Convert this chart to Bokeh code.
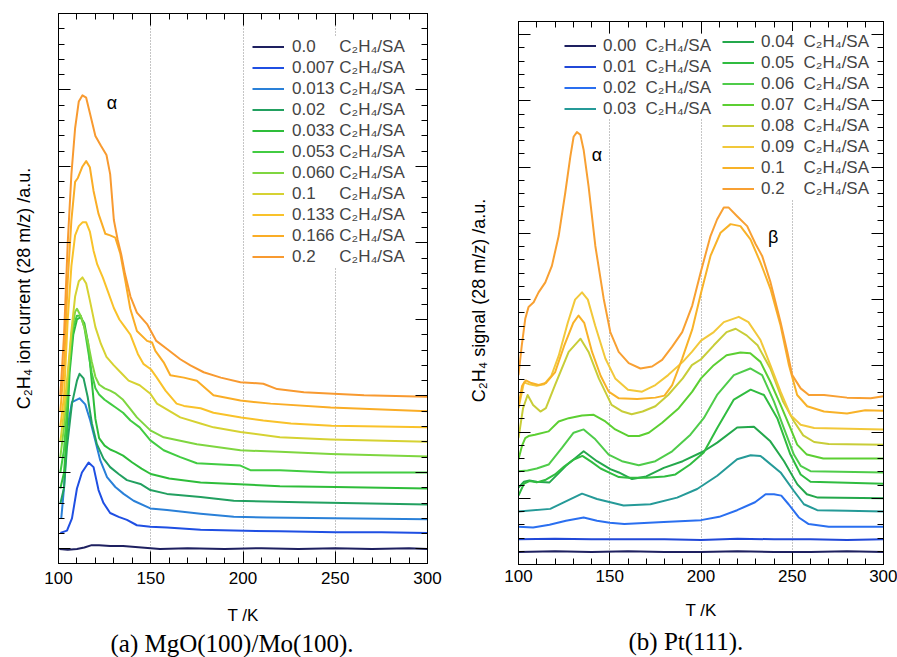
from bokeh.plotting import figure
from bokeh.models import (Range1d, FixedTicker, LinearAxis, Legend, LegendItem, Title,
                          CustomLabelingPolicy)
from bokeh.layouts import row
from bokeh.core.properties import value
from bokeh.embed import file_html
from bokeh.resources import INLINE

FONT = "Liberation Sans"
SERIF = "Liberation Serif"

# ---------------- (a) MgO(100)/Mo(100) ----------------
mgo_doses = ["0.0", "0.007", "0.013", "0.02", "0.033", "0.053", "0.060", "0.1", "0.133", "0.166", "0.2"]
mgo_colors = ["#1e2060", "#1f4fe3", "#2a80d8", "#22a060", "#2ebd3a", "#42cc42",
              "#7fd640", "#d6d232", "#f9c22a", "#faad26", "#f89a30"]

mgo_T_0 = [100.5, 105, 110, 114, 118, 122, 128, 135, 145, 155, 170, 190, 210, 230, 250, 270, 290, 300]
mgo_V_0 = [0.0, -0.01, 0.0, 0.02, 0.05, 0.05, 0.04, 0.04, 0.02, 0.0, 0.01, 0.0, 0.01, 0.0, 0.01, 0.0, 0.01, 0.0]

mgo_T_1 = [101, 104.6, 107.3, 110, 112.7, 116.3, 119, 121.7, 124.4, 128, 132.6, 137.1, 142.5, 149.8, 158.8, 177, 195, 220, 250, 275, 300]
mgo_V_1 = [0.21, 0.24, 0.40, 0.79, 1.0, 1.13, 1.07, 0.77, 0.60, 0.47, 0.42, 0.38, 0.31, 0.29, 0.28, 0.25, 0.24, 0.23, 0.22, 0.22, 0.21]

mgo_T_2 = [101.5, 103, 104.6, 107.3, 111.4, 114.5, 117.2, 119.9, 122.6, 126.3, 130.8, 135.3, 140.7, 149.8, 158.8, 177, 195, 213, 249, 300]
mgo_V_2 = [0.40, 0.8, 1.55, 1.92, 1.97, 1.89, 1.68, 1.42, 1.16, 0.94, 0.81, 0.72, 0.63, 0.53, 0.51, 0.46, 0.42, 0.41, 0.40, 0.39]

mgo_T_3 = [101, 103, 104.6, 107.3, 110, 111.4, 113.6, 115.8, 118.1, 120.8, 124.4, 128, 132.6, 137.1, 144.4, 149.8, 158.8, 177, 195, 231, 300]
mgo_V_3 = [0.59, 0.8, 1.33, 1.9, 2.2, 2.29, 2.23, 1.99, 1.64, 1.37, 1.18, 1.07, 0.98, 0.90, 0.85, 0.77, 0.72, 0.68, 0.63, 0.61, 0.58]

mgo_T_4 = [101, 103, 104.5, 106, 108, 110, 112, 114, 116, 118, 120, 122, 125, 128, 131, 135, 140, 145, 150, 160, 177, 195, 220, 250, 300]
mgo_V_4 = [0.79, 1.0, 1.5, 2.3, 2.8, 3.0, 3.03, 2.95, 2.7, 2.2, 1.7, 1.45, 1.35, 1.3, 1.27, 1.22, 1.13, 1.05, 0.98, 0.92, 0.87, 0.85, 0.82, 0.81, 0.79]

mgo_T_5 = [101, 103, 104.5, 106, 108, 110, 112, 114, 116, 118, 120, 122, 125, 128, 131, 135, 139, 144, 149.8, 157, 166, 175, 198.6, 204, 220, 247.5, 300]
mgo_V_5 = [1.0, 1.3, 1.8, 2.4, 2.9, 3.05, 3.05, 2.9, 2.6, 2.3, 2.1, 2.02, 1.95, 1.9, 1.85, 1.78, 1.68, 1.59, 1.42, 1.29, 1.2, 1.12, 1.09, 1.03, 1.03, 1.0, 1.0]

mgo_T_6 = [101, 103, 105, 107, 109, 110, 112, 114, 116, 118, 120, 122, 125, 128, 131, 135, 138.9, 142.5, 149.8, 157, 175, 198.6, 220, 247.5, 300]
mgo_V_6 = [1.2, 1.6, 2.2, 2.8, 3.1, 3.14, 3.05, 2.9, 2.7, 2.45, 2.25, 2.15, 2.1, 2.07, 2.03, 1.95, 1.83, 1.72, 1.55, 1.46, 1.37, 1.29, 1.27, 1.24, 1.21]

mgo_T_7 = [101, 103, 105, 107, 109, 111, 113, 115, 117, 120, 123, 126, 130, 134, 138, 144, 149.8, 153.4, 166, 177, 184, 198.6, 220, 247.5, 300]
mgo_V_7 = [1.4, 1.8, 2.3, 2.85, 3.3, 3.5, 3.55, 3.47, 3.25, 2.9, 2.68, 2.51, 2.4, 2.3, 2.2, 2.14, 2.03, 1.9, 1.72, 1.64, 1.59, 1.53, 1.46, 1.43, 1.40]

mgo_T_8 = [101, 103, 105, 107, 109, 111, 113, 115, 117, 119, 121, 124, 127, 130, 133, 136, 139, 143, 146, 150, 153, 158, 164, 168, 177, 184, 199, 211, 226, 248, 300]
mgo_V_8 = [1.6, 2.0, 3.0, 3.7, 4.1, 4.22, 4.27, 4.27, 4.15, 3.9, 3.72, 3.55, 3.35, 3.15, 3.0, 2.9, 2.8, 2.55, 2.42, 2.35, 2.25, 2.07, 1.9, 1.87, 1.84, 1.78, 1.72, 1.68, 1.64, 1.61, 1.59]

mgo_T_9 = [101, 103, 105, 107, 109, 110.5, 113, 115, 117, 119, 121.7, 125.4, 128, 130.8, 133.5, 136.2, 138.9, 142.5, 148, 150.7, 152.5, 157, 160.6, 168, 175, 184, 198.6, 215, 247.5, 300]
mgo_V_9 = [1.8, 2.4, 3.5, 4.3, 4.8, 4.85, 5.0, 5.07, 4.99, 4.68, 4.38, 4.12, 4.1, 4.07, 3.86, 3.51, 3.14, 2.85, 2.72, 2.70, 2.59, 2.44, 2.27, 2.24, 2.20, 2.01, 1.94, 1.90, 1.85, 1.80]

mgo_T_10 = [101, 103, 105, 107, 109, 111, 113, 115, 117, 120, 123, 126, 128, 130, 132, 134, 136, 139, 142.5, 148, 153, 159, 166, 171.5, 178.7, 188, 198.6, 211, 218.5, 233, 249, 265.6, 300]
mgo_V_10 = [2.0, 2.8, 4.0, 4.9, 5.5, 5.85, 5.93, 5.9, 5.7, 5.4, 5.27, 5.15, 4.9, 4.3, 4.05, 3.85, 3.6, 3.3, 3.09, 2.94, 2.72, 2.61, 2.48, 2.40, 2.31, 2.24, 2.18, 2.16, 2.09, 2.05, 2.03, 2.01, 1.99]

mgo_T = [mgo_T_0, mgo_T_1, mgo_T_2, mgo_T_3, mgo_T_4, mgo_T_5, mgo_T_6, mgo_T_7, mgo_T_8, mgo_T_9, mgo_T_10]
mgo_V = [mgo_V_0, mgo_V_1, mgo_V_2, mgo_V_3, mgo_V_4, mgo_V_5, mgo_V_6, mgo_V_7, mgo_V_8, mgo_V_9, mgo_V_10]

# ---------------- (b) Pt(111) ----------------
pt_doses = ["0.00", "0.01", "0.02", "0.03", "0.04", "0.05", "0.06", "0.07", "0.08", "0.09", "0.1", "0.2"]
pt_colors = ["#1e2060", "#2148d8", "#2a6ff0", "#259a98", "#24a84c", "#30bc40",
             "#4fcc4a", "#5ccf32", "#c8cd38", "#f2c83a", "#f8b228", "#f8a032"]

pt_T_0 = [100, 120, 140, 160, 180, 200, 220, 240, 260, 280, 300]
pt_V_0 = [0.19, 0.2, 0.19, 0.2, 0.19, 0.19, 0.2, 0.19, 0.19, 0.2, 0.19]

pt_T_1 = [100, 120, 140, 160, 180, 200, 220, 240, 260, 280, 300]
pt_V_1 = [0.38, 0.39, 0.38, 0.38, 0.38, 0.37, 0.39, 0.38, 0.38, 0.37, 0.38]

pt_T_2 = [100, 108, 117, 126, 135.7, 143, 150, 158, 179.6, 200, 210, 219.8, 229.6, 235.4, 240, 244, 248, 253.6, 259, 270, 300]
pt_V_2 = [0.57, 0.56, 0.6, 0.66, 0.71, 0.66, 0.63, 0.61, 0.64, 0.67, 0.72, 0.82, 0.94, 1.06, 1.06, 1.04, 0.91, 0.71, 0.61, 0.57, 0.57]

pt_T_3 = [100, 117.4, 126.5, 134.8, 143, 150.3, 157.6, 172.3, 186.9, 197.9, 208.9, 219.8, 227.2, 232.6, 243.6, 250.9, 256.4, 263.7, 280, 300]
pt_V_3 = [0.80, 0.84, 0.96, 1.07, 0.99, 0.94, 0.89, 0.91, 1.01, 1.14, 1.34, 1.59, 1.65, 1.64, 1.39, 1.11, 0.91, 0.82, 0.81, 0.80]

pt_T_4 = [100, 103, 106, 110, 117, 126, 135.7, 143, 150.3, 155, 162.2, 170, 179.6, 190, 201.5, 208.9, 219.8, 229, 238, 245.5, 252.8, 258, 264, 300]
pt_V_4 = [1.16, 1.25, 1.27, 1.25, 1.24, 1.49, 1.71, 1.56, 1.44, 1.39, 1.29, 1.33, 1.46, 1.56, 1.71, 1.84, 2.07, 2.08, 1.86, 1.56, 1.21, 1.06, 1.01, 1.0]

pt_T_5 = [100, 103, 106, 110, 115, 120, 125, 130, 135, 140, 145, 150.3, 155, 160, 170, 180, 186, 194, 201.5, 208.9, 218, 227.2, 234.5, 241.8, 249, 254.6, 260, 300]
pt_V_5 = [1.04, 1.22, 1.26, 1.24, 1.28, 1.36, 1.48, 1.58, 1.64, 1.55, 1.45, 1.38, 1.32, 1.31, 1.31, 1.33, 1.36, 1.51, 1.69, 2.06, 2.49, 2.64, 2.56, 2.21, 1.66, 1.36, 1.25, 1.22]

pt_T_6 = [100, 105, 110, 116.5, 123.8, 130.2, 135.7, 142.1, 149.4, 156.7, 165.9, 175, 184.2, 194.2, 201.5, 208.8, 218, 227, 233.5, 240, 245.4, 250.9, 254.6, 260, 300]
pt_V_6 = [1.41, 1.42, 1.45, 1.51, 1.76, 1.99, 2.04, 1.89, 1.66, 1.56, 1.5, 1.56, 1.71, 1.96, 2.21, 2.56, 2.86, 2.96, 2.86, 2.46, 2.06, 1.66, 1.49, 1.41, 1.39]

pt_T_7 = [100, 102, 103.7, 105.5, 109, 116.5, 122, 127.5, 134.8, 141.2, 147.6, 153, 160.4, 166, 171.4, 178.7, 187.8, 195.2, 200, 207, 214, 221.6, 227, 232.6, 238, 243.6, 249, 252.7, 258, 267, 300]
pt_V_7 = [1.59, 1.8, 1.91, 1.94, 1.96, 2.01, 2.16, 2.21, 2.25, 2.26, 2.16, 2.04, 1.94, 1.94, 1.99, 2.14, 2.36, 2.61, 2.81, 3.01, 3.16, 3.2, 3.19, 3.06, 2.76, 2.41, 2.06, 1.81, 1.66, 1.6, 1.6]

pt_T_8 = [100, 102.5, 105, 108, 112, 115, 120, 127.5, 134, 138.4, 144, 151, 157, 162, 168, 175, 182, 190, 195, 200, 207, 214, 219, 225, 231, 238, 245, 251, 256, 262, 270, 300]
pt_V_8 = [1.91, 2.36, 2.56, 2.41, 2.31, 2.36, 2.71, 3.21, 3.41, 3.21, 2.81, 2.41, 2.31, 2.27, 2.31, 2.39, 2.56, 2.81, 3.01, 3.1, 3.31, 3.51, 3.56, 3.46, 3.31, 2.96, 2.46, 2.16, 1.95, 1.85, 1.82, 1.81]

pt_T_9 = [100, 103, 106, 110, 114, 118, 122, 127, 131, 134.8, 138, 142, 147.6, 153, 160, 167.7, 175, 182, 190, 195, 200, 207, 212.5, 220.7, 226, 232.6, 238, 243.6, 249, 254.6, 262, 300]
pt_V_9 = [2.36, 2.75, 2.72, 2.7, 2.72, 2.85, 3.15, 3.65, 4.0, 4.11, 4.0, 3.61, 3.11, 2.81, 2.64, 2.61, 2.71, 2.86, 3.06, 3.21, 3.38, 3.51, 3.66, 3.74, 3.66, 3.39, 3.01, 2.61, 2.26, 2.11, 2.06, 2.04]

pt_T_10 = [100, 102, 104, 107, 111, 115, 120, 125, 130, 132.9, 136, 140.3, 145, 149.4, 155, 165, 175, 180, 184.2, 189.7, 195.2, 200, 205.2, 210.7, 216.2, 221.6, 227.1, 232.6, 238.1, 243.6, 248.2, 252.7, 258.2, 267.4, 280, 290, 300]
pt_V_10 = [2.4, 2.7, 2.78, 2.74, 2.71, 2.74, 2.9, 3.3, 3.65, 3.76, 3.65, 3.21, 2.85, 2.61, 2.51, 2.5, 2.52, 2.55, 2.71, 3.11, 3.55, 4.1, 4.66, 5.01, 5.14, 5.11, 4.91, 4.56, 4.16, 3.61, 3.01, 2.56, 2.39, 2.31, 2.28, 2.33, 2.32]

pt_T_11 = [100, 101.8, 103.7, 105.5, 108.3, 111, 114.7, 118.3, 122, 125.6, 128.4, 130.2, 132, 133.9, 135.7, 138.4, 142.1, 146.7, 150.3, 154.9, 160.4, 166.8, 173.2, 178.7, 184.2, 189.7, 195.2, 199.7, 205.2, 208.8, 212.5, 215.2, 219.8, 225.3, 229.9, 233.5, 238.1, 243.6, 247.3, 250, 254.6, 259.1, 267.4, 280, 293, 300]
pt_V_11 = [2.86, 3.31, 3.71, 3.89, 3.96, 4.11, 4.26, 4.51, 4.96, 5.61, 6.16, 6.46, 6.53, 6.49, 6.26, 5.71, 4.81, 4.01, 3.51, 3.21, 3.04, 2.96, 2.99, 3.09, 3.29, 3.51, 3.91, 4.4, 4.96, 5.21, 5.39, 5.39, 5.26, 5.11, 4.84, 4.66, 4.26, 3.66, 3.21, 2.86, 2.66, 2.56, 2.56, 2.52, 2.51, 2.54]

pt_T = [pt_T_0, pt_T_1, pt_T_2, pt_T_3, pt_T_4, pt_T_5, pt_T_6, pt_T_7, pt_T_8, pt_T_9, pt_T_10, pt_T_11]
pt_V = [pt_V_0, pt_V_1, pt_V_2, pt_V_3, pt_V_4, pt_V_5, pt_V_6, pt_V_7, pt_V_8, pt_V_9, pt_V_10, pt_V_11]

x_major = [100, 150, 200, 250, 300]
x_minor = list(range(100, 301, 10))
mgo_y_major = [0, 1, 2, 3, 4, 5, 6, 7]
mgo_y_minor = [round(i * 0.2, 1) for i in range(0, 36)]
pt_y_major = [0, 1, 2, 3, 4, 5, 6, 7, 8]
pt_y_minor = [round(i * 0.2, 1) for i in range(0, 42)]

UNIT = "\u00a0C\u2082H\u2084/SA"
FS = "\u2007"
NB = "\u00a0"

NO_LABELS = "for (const i of indices) { indices.unset(i) }\nreturn indices"


def make_fig(width, yrange, bl, br, bt, bb, yticks, ylabel, ylab_standoff,
             tick_standoff, xlab_standoff, caption, cap_off, cap_standoff):
    p = figure(width=width, height=657, output_backend="svg", toolbar_location=None,
               title=None,
               x_range=Range1d(100, 300), y_range=Range1d(*yrange),
               min_border_left=bl, min_border_right=br, min_border_top=bt, min_border_bottom=bb,
               background_fill_color="white", border_fill_color="white")
    p.frame_align = False
    p.outline_line_color = "black"
    p.outline_line_width = 1
    xt = FixedTicker(ticks=x_major, minor_ticks=x_minor)
    yt = FixedTicker(ticks=yticks[0], minor_ticks=yticks[1])
    p.xaxis.ticker = xt
    p.yaxis.ticker = yt
    top = LinearAxis(ticker=xt)
    right = LinearAxis(ticker=yt)
    p.add_layout(top, "above")
    p.add_layout(right, "right")
    for ax in p.axis:
        ax.major_tick_in = 12
        ax.major_tick_out = 0
        ax.minor_tick_in = 6
        ax.minor_tick_out = 0
        ax.axis_line_color = "black"
        ax.major_tick_line_color = "black"
        ax.minor_tick_line_color = "black"
        ax.major_label_text_font = FONT
        ax.major_label_text_font_size = "17px"
        ax.major_label_text_color = "black"
        ax.major_label_standoff = tick_standoff
    for ax in [top, right, p.yaxis[0]]:
        ax.major_label_text_font_size = "1px"
        ax.major_label_standoff = 0
        ax.major_label_policy = CustomLabelingPolicy(code=NO_LABELS)
    bx = p.below[0]
    bx.axis_label = "T /K"
    bx.axis_label_text_font = FONT
    bx.axis_label_text_font_size = "17px"
    bx.axis_label_text_font_style = "normal"
    bx.axis_label_text_color = "black"
    bx.axis_label_standoff = xlab_standoff
    ly = p.left[0]
    ly.axis_label = ylabel
    ly.axis_label_text_font = FONT
    ly.axis_label_text_font_size = "18px"
    ly.axis_label_text_font_style = "normal"
    ly.axis_label_text_color = "black"
    ly.axis_label_standoff = ylab_standoff
    p.xgrid.ticker = xt
    p.xgrid.grid_line_color = "#8a8a8a"
    p.xgrid.grid_line_dash = "1 2"
    p.xgrid.grid_line_width = 1
    p.ygrid.visible = False
    cap = Title(text=caption, align="left", text_font=SERIF, text_font_size="25px",
                text_font_style="normal", text_color="black", offset=cap_off, standoff=cap_standoff)
    p.add_layout(cap, "below")
    return p


def greek(p, x, y, s):
    p.text(x=[x], y=[y], text=[s], text_font=value(FONT), text_font_size="18px",
           text_align="center", text_baseline="middle", text_color="black")


def legend(items, loc, standoff):
    return Legend(items=items, location=loc, glyph_width=32, glyph_height=21, label_height=21,
                  spacing=0, padding=6, margin=0, border_line_color=None,
                  background_fill_color="white", background_fill_alpha=1.0,
                  label_text_font=FONT, label_text_font_size="17px", label_standoff=standoff)


# ---- panel (a)
pa = make_fig(450, (-0.19, 7.0), 58, 23, 13, 94, (mgo_y_major, mgo_y_minor),
              "C\u2082H\u2084 ion current (28 m/z) /a.u.", 21,
              8, 19, "(a) MgO(100)/Mo(100).", 52, 0)
ra = []
for T, V, c in zip(mgo_T, mgo_V, mgo_colors):
    ra.append(pa.line(T, V, line_color=c, line_width=2, line_join="round"))
items_a = [LegendItem(label=d + FS * (5 - len(d)) + UNIT, renderers=[r]) for d, r in zip(mgo_doses, ra)]
pa.add_layout(legend(items_a, (194, 296), 8))
greek(pa, 129, 5.83, "\u03b1")

# ---- panel (b)
pb = make_fig(447, (0, 8.2), 68, 14, 21, 90, (pt_y_major, pt_y_minor),
              "C\u2082H\u2084 signal (28 m/z) /a.u." + NB * 3, 26,
              5, 16, "(b) Pt(111).", 110, 6)
rb = []
for T, V, c in zip(pt_T, pt_V, pt_colors):
    rb.append(pb.line(T, V, line_color=c, line_width=2, line_join="round"))
lab_b = [d + FS * (4 - len(d)) + NB + UNIT for d in pt_doses]
items_b1 = [LegendItem(label=l, renderers=[r]) for l, r in zip(lab_b[:4], rb[:4])]
items_b2 = [LegendItem(label=l, renderers=[r]) for l, r in zip(lab_b[4:], rb[4:])]
pb.add_layout(legend(items_b1, (46, 445), 7))
pb.add_layout(legend(items_b2, (204, 365), 7))
greek(pb, 143, 6.18, "\u03b1")
greek(pb, 239.5, 4.95, "\u03b2")

layout = row(pa, pb)
open("out.html", "w").write(file_html(layout, INLINE))
